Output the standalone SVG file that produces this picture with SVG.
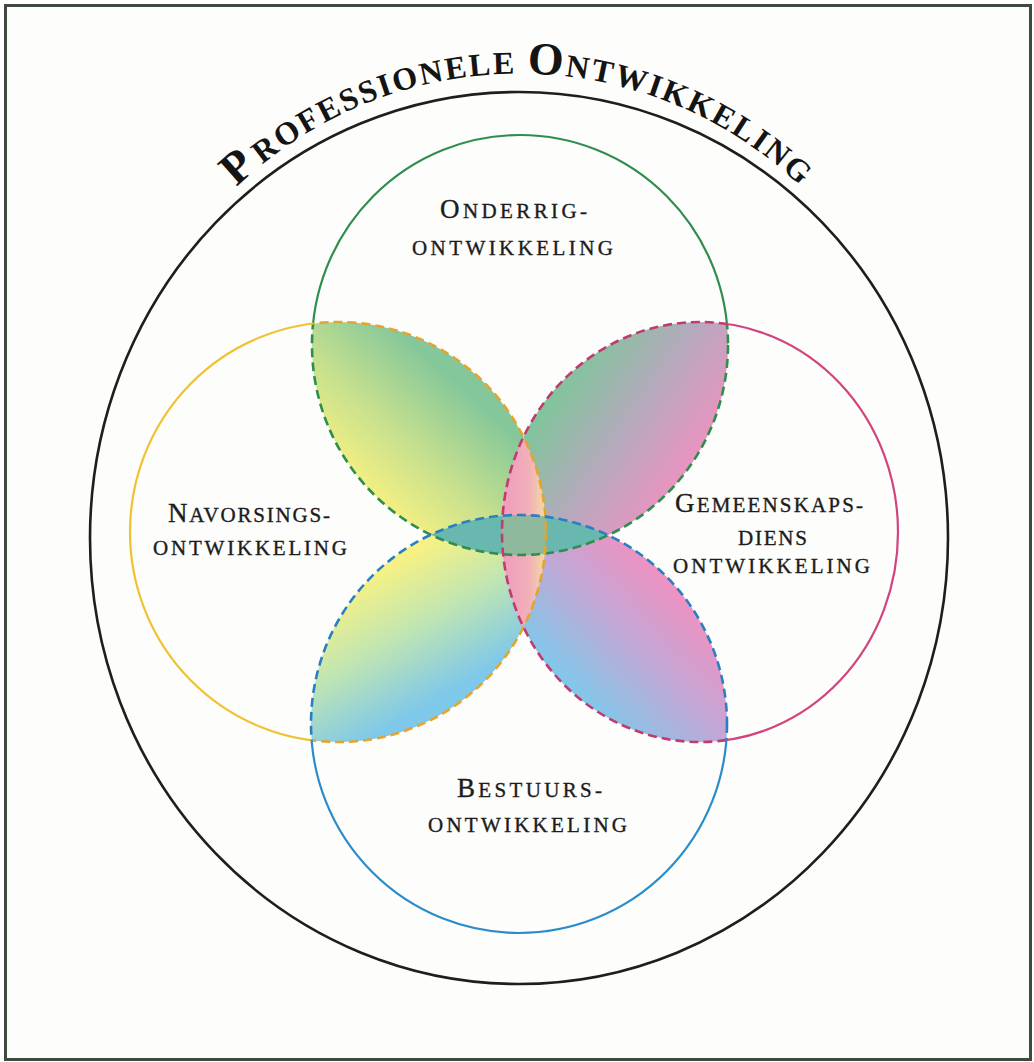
<svg xmlns="http://www.w3.org/2000/svg" width="1034" height="1062" viewBox="0 0 1034 1062">
<style>
.lbl{font-family:"Liberation Serif","DejaVu Serif",serif;fill:#1c1c1c;font-size:21px;stroke:#1c1c1c;stroke-width:0.35}
.big{font-size:27px}
.title{font-family:"Liberation Serif","DejaVu Serif",serif;font-weight:bold;fill:#141414;font-size:32px;letter-spacing:2.2px}
.tbig{font-size:46px}
.solid{fill:none;stroke-width:2.2}
.dash{fill:none;stroke-width:2.6;stroke-dasharray:9 5}
</style>
<defs>
<ellipse id="eG" cx="520" cy="345" rx="208" ry="210"/>
<ellipse id="eY" cx="338" cy="532" rx="208" ry="210"/>
<ellipse id="eP" cx="700" cy="532" rx="198" ry="210"/>
<ellipse id="eB" cx="519" cy="724" rx="208" ry="209"/>
<clipPath id="cG"><use href="#eG"/></clipPath>
<clipPath id="cY"><use href="#eY"/></clipPath>
<clipPath id="cP"><use href="#eP"/></clipPath>
<clipPath id="cB"><use href="#eB"/></clipPath>
<clipPath id="cNotG"><use href="#eY"/><use href="#eP"/><use href="#eB"/></clipPath>
<clipPath id="cNotY"><use href="#eG"/><use href="#eP"/><use href="#eB"/></clipPath>
<clipPath id="cNotP"><use href="#eG"/><use href="#eY"/><use href="#eB"/></clipPath>
<clipPath id="cNotB"><use href="#eG"/><use href="#eY"/><use href="#eP"/></clipPath>
<mask id="mG" maskUnits="userSpaceOnUse" x="0" y="0" width="1034" height="1062"><rect width="1034" height="1062" fill="#fff"/><use href="#eY" fill="#000"/><use href="#eP" fill="#000"/><use href="#eB" fill="#000"/></mask>
<mask id="mY" maskUnits="userSpaceOnUse" x="0" y="0" width="1034" height="1062"><rect width="1034" height="1062" fill="#fff"/><use href="#eG" fill="#000"/><use href="#eP" fill="#000"/><use href="#eB" fill="#000"/></mask>
<mask id="mP" maskUnits="userSpaceOnUse" x="0" y="0" width="1034" height="1062"><rect width="1034" height="1062" fill="#fff"/><use href="#eG" fill="#000"/><use href="#eY" fill="#000"/><use href="#eB" fill="#000"/></mask>
<mask id="mB" maskUnits="userSpaceOnUse" x="0" y="0" width="1034" height="1062"><rect width="1034" height="1062" fill="#fff"/><use href="#eG" fill="#000"/><use href="#eY" fill="#000"/><use href="#eP" fill="#000"/></mask>
<linearGradient id="gGY" gradientUnits="userSpaceOnUse" x1="360" y1="485" x2="455" y2="380"><stop offset="0" stop-color="#f4f082"/><stop offset="0.45" stop-color="#c6e08e"/><stop offset="1" stop-color="#84c79a"/></linearGradient>
<linearGradient id="gGP" gradientUnits="userSpaceOnUse" x1="565" y1="370" x2="705" y2="465"><stop offset="0" stop-color="#7ec69a"/><stop offset="0.5" stop-color="#b6a9bd"/><stop offset="1" stop-color="#f290c0"/></linearGradient>
<linearGradient id="gYB" gradientUnits="userSpaceOnUse" x1="375" y1="575" x2="445" y2="695"><stop offset="0" stop-color="#f5f185"/><stop offset="0.45" stop-color="#c2e6b0"/><stop offset="1" stop-color="#7ec8ea"/></linearGradient>
<linearGradient id="gPB" gradientUnits="userSpaceOnUse" x1="685" y1="590" x2="575" y2="695"><stop offset="0" stop-color="#f290c0"/><stop offset="0.5" stop-color="#c0a8d6"/><stop offset="1" stop-color="#80c8ea"/></linearGradient>
<linearGradient id="gV" gradientUnits="userSpaceOnUse" x1="504" y1="0" x2="546" y2="0"><stop offset="0" stop-color="#f09cbd"/><stop offset="0.6" stop-color="#f2b0b8"/><stop offset="1" stop-color="#f3dca2"/></linearGradient>
<path id="titleArc" d="M166,277 A408,408 0 0 1 872,277"/>
</defs>
<rect x="0" y="0" width="1034" height="1062" fill="#ffffff"/>
<rect x="5.5" y="5.5" width="1025" height="1054" fill="#fdfdfb" stroke="#3e4a3e" stroke-width="3"/>

<g id="outer">
<ellipse cx="519" cy="538" rx="429" ry="446" fill="none" stroke="#1e1e1e" stroke-width="2.6"/>
<text class="title"><textPath href="#titleArc" startOffset="50%" text-anchor="middle"><tspan class="tbig">P</tspan><tspan dx="4">ROFESSIONELE </tspan><tspan class="tbig">O</tspan>NTWIKKELING</textPath></text>
</g>

<g id="fills">
<g clip-path="url(#cG)"><use href="#eY" fill="url(#gGY)"/></g>
<g clip-path="url(#cG)"><use href="#eP" fill="url(#gGP)"/></g>
<g clip-path="url(#cB)"><use href="#eY" fill="url(#gYB)"/></g>
<g clip-path="url(#cB)"><use href="#eP" fill="url(#gPB)"/></g>
<g clip-path="url(#cY)"><use href="#eP" fill="url(#gV)"/></g>
<g clip-path="url(#cG)"><use href="#eB" fill="#68b8b0"/></g>
<g clip-path="url(#cG)"><g clip-path="url(#cB)"><g clip-path="url(#cY)"><use href="#eP" fill="#8fb99c"/></g></g></g>
</g>

<g id="onderrig">
<use href="#eG" class="solid" stroke="#2f8d4e" mask="url(#mG)"/>
<use href="#eG" class="dash" stroke="#2f8d4e" clip-path="url(#cNotG)"/>
<text class="lbl" x="440" y="218" textLength="147" lengthAdjust="spacing"><tspan class="big">O</tspan>NDERRIG-</text>
<text class="lbl" x="412" y="255" textLength="201" lengthAdjust="spacing">ONTWIKKELING</text>
</g>

<g id="navorsing">
<use href="#eY" class="solid" stroke="#f0c232" mask="url(#mY)"/>
<use href="#eY" class="dash" stroke="#e3a430" clip-path="url(#cNotY)"/>
<text class="lbl" x="168" y="522" textLength="162" lengthAdjust="spacing"><tspan class="big">N</tspan>AVORSINGS-</text>
<text class="lbl" x="153" y="555" textLength="194" lengthAdjust="spacing">ONTWIKKELING</text>
</g>

<g id="gemeenskap">
<use href="#eP" class="solid" stroke="#d2447e" mask="url(#mP)"/>
<use href="#eP" class="dash" stroke="#c23a72" clip-path="url(#cNotP)"/>
<text class="lbl" x="675" y="512" textLength="188" lengthAdjust="spacing"><tspan class="big">G</tspan>EMEENSKAPS-</text>
<text class="lbl" x="738" y="545" textLength="69" lengthAdjust="spacing">DIENS</text>
<text class="lbl" x="673" y="573" textLength="197" lengthAdjust="spacing">ONTWIKKELING</text>
</g>

<g id="bestuur">
<use href="#eB" class="solid" stroke="#2a8ccb" mask="url(#mB)"/>
<use href="#eB" class="dash" stroke="#2a7fc0" clip-path="url(#cNotB)"/>
<text class="lbl" x="457" y="797" textLength="145" lengthAdjust="spacing"><tspan class="big">B</tspan>ESTUURS-</text>
<text class="lbl" x="428" y="832" textLength="199" lengthAdjust="spacing">ONTWIKKELING</text>
</g>
</svg>
